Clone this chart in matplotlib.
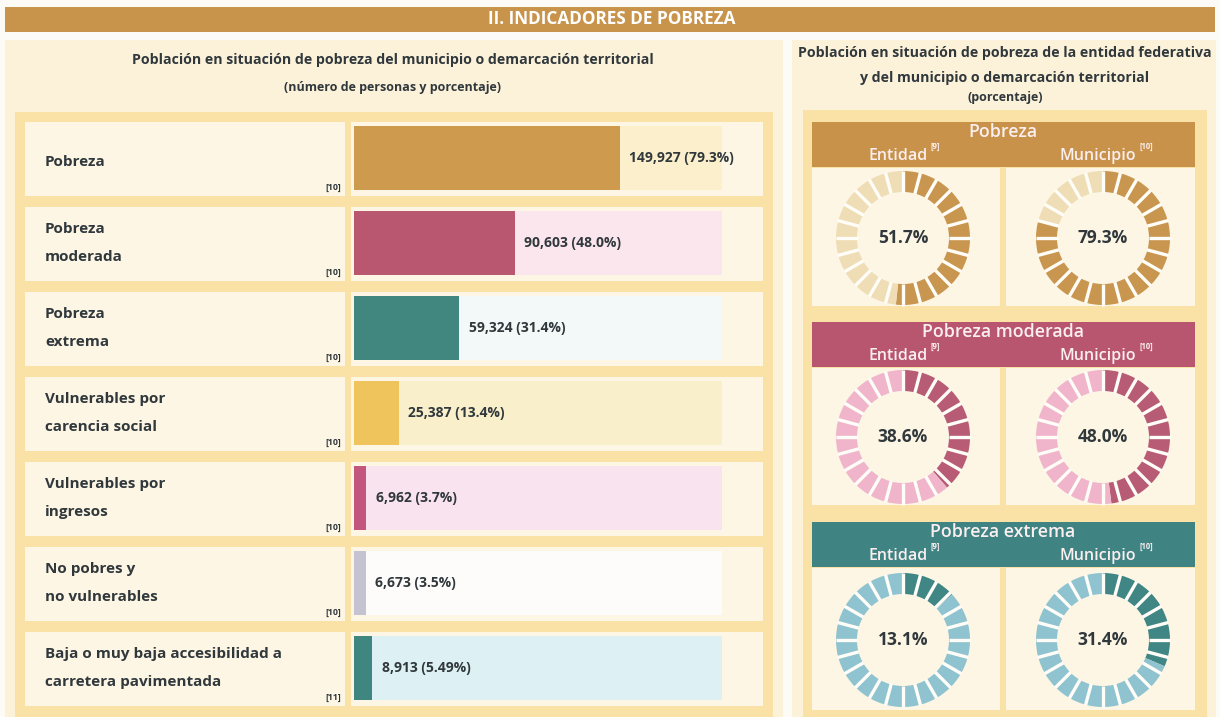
import numpy as np
import matplotlib
matplotlib.use("Agg")
import matplotlib.pyplot as plt
from matplotlib.patches import Rectangle, Wedge

plt.rcParams['font.family'] = ['Open Sans', 'DejaVu Sans']

W, H = 1220, 717

# ---- data ----
row_labels = ['Pobreza', 'Pobreza\nmoderada', 'Pobreza\nextrema',
              'Vulnerables por\ncarencia social', 'Vulnerables por\ningresos',
              'No pobres y\nno vulnerables',
              'Baja o muy baja accesibilidad a\ncarretera pavimentada']
row_notes = ['[10]', '[10]', '[10]', '[10]', '[10]', '[10]', '[11]']
personas = [149927, 90603, 59324, 25387, 6962, 6673, 8913]
pct = [79.3, 48.0, 31.4, 13.4, 3.7, 3.5, 5.49]
pct_txt = ['79.3%', '48.0%', '31.4%', '13.4%', '3.7%', '3.5%', '5.49%']
bar_colors = ['#CD9A4E', '#BA5770', '#42877F', '#EFC45C', '#C2567C', '#C5C2D1', '#3E867F']
bar_bg = ['#FCEFCC', '#FBE6EE', '#F3F8F8', '#FAEFCB', '#F8E3EF', '#FDFCFB', '#DDF0F3']

groups = ['Pobreza', 'Pobreza moderada', 'Pobreza extrema']
entidad = [51.7, 38.6, 13.1]
municipio = [79.3, 48.0, 31.4]
grp_dark = ['#C99650', '#B75C74', '#3F8685']
grp_light = ['#EFDDB6', '#F0B5CB', '#8EC3CF']
grp_head = ['#C8924A', '#B8566F', '#3F8482']

TXT = '#30383C'
CREAM = '#FCF2DA'
CELL = '#FDF6E4'
FRAME = '#FAE2A6'

fig = plt.figure(figsize=(W / 100, H / 100), dpi=100)
fig.patch.set_facecolor('#FDFBF5')


def px_axes(x0, y0, x1, y1):
    return fig.add_axes([x0 / W, 1 - y1 / H, (x1 - x0) / W, (y1 - y0) / H])


bg = fig.add_axes([0, 0, 1, 1])
bg.set_xlim(0, W)
bg.set_ylim(H, 0)
bg.axis('off')


def box(x0, y0, x1, y1, color, z=1):
    bg.add_patch(Rectangle((x0, y0), x1 - x0, y1 - y0, color=color, lw=0, zorder=z))


# header
box(5, 7, 1215, 32, '#C8944C')
bg.text(612, 19, 'II. INDICADORES DE POBREZA', color='white', fontsize=12.3,
        fontweight='bold', ha='center', va='center')

# left panel
box(5, 40, 783, 717, CREAM)
bg.text(393, 60, 'Población en situación de pobreza del municipio o demarcación territorial',
        fontsize=10.2, fontweight='bold', color=TXT, ha='center', va='center')
bg.text(393, 87, '(número de personas y porcentaje)', fontsize=9, fontweight='bold',
        color=TXT, ha='center', va='center')
box(15, 112, 773, 717, FRAME)

pitch = 85
y_first = 158
for i, lab in enumerate(row_labels):
    cy = y_first + i * pitch
    box(25, cy - 36, 345, cy + 38, CELL, 2)
    box(351, cy - 36, 763, cy + 38, CELL, 2)
    n_lines = lab.count('\n') + 1
    bg.text(45, cy + 4 if n_lines == 1 else cy, lab, fontsize=11, fontweight='bold',
            color=TXT, ha='left', va='center', linespacing=2.2, zorder=3)
    bg.text(341, cy + 34, row_notes[i], fontsize=6.3, fontweight='bold', color=TXT,
            ha='right', va='bottom', zorder=3)

# bars
ymin = y_first - pitch / 2
ymax = y_first + (len(pct) - 1) * pitch + pitch / 2
axb = px_axes(354, ymin, 722, ymax)
axb.patch.set_alpha(0)
xmax = 109.7
ypos = np.arange(len(pct))
axb.barh(ypos, [xmax] * len(pct), height=0.75, color=bar_bg, lw=0)
axb.barh(ypos, pct, height=0.75, color=bar_colors, lw=0)
for i, (n, p) in enumerate(zip(personas, pct)):
    axb.text(p + 2.8, i, f'{n:,} ({pct_txt[i]})', fontsize=10, fontweight='bold',
             color=TXT, va='center', ha='left')
axb.set_xlim(0, xmax)
axb.set_ylim(len(pct) - 0.5, -0.5)
axb.axis('off')

# right panel
box(792, 40, 1216, 717, CREAM)
bg.text(1005, 53, 'Población en situación de pobreza de la entidad federativa',
        fontsize=10.2, fontweight='bold', color=TXT, ha='center', va='center')
bg.text(1005, 78, 'y del municipio o demarcación territorial',
        fontsize=10.2, fontweight='bold', color=TXT, ha='center', va='center')
bg.text(1005, 98, '(porcentaje)', fontsize=9, fontweight='bold', color=TXT,
        ha='center', va='center')
box(803, 110, 1207, 717, FRAME)

head_tops = [122, 322, 522]
cell_bottoms = [306, 505, 710]
donut_cy = [238, 437, 640]
cols_x = [903, 1103]
col_names = ['Entidad', 'Municipio']
col_notes = ['[9]', '[10]']


def donut(ax, value, dark, light, n=24, r=67, w=21):
    filled = value / 100 * n
    step = 360 / n
    for k in range(n):
        f = min(max(filled - k, 0), 1)
        a0, a1 = k * step, (k + 1) * step
        if f > 0:
            ax.add_patch(Wedge((0, 0), r, 90 - (a0 + f * step), 90 - a0, width=w,
                               color=dark, lw=0))
        if f < 1:
            ax.add_patch(Wedge((0, 0), r, 90 - a1, 90 - (a0 + f * step), width=w,
                               color=light, lw=0))
    for k in range(n):
        t = np.deg2rad(90 - k * step)
        ax.plot([(r - w - 0.5) * np.cos(t), (r + 0.5) * np.cos(t)],
                [(r - w - 0.5) * np.sin(t), (r + 0.5) * np.sin(t)], color='#FFFDF7',
                lw=2.4, solid_capstyle='butt')
    ax.text(0, 0, f'{value:.1f}%', fontsize=12.5, fontweight='bold', color=TXT,
            ha='center', va='center')


for g, name in enumerate(groups):
    top = head_tops[g]
    box(812, top, 1195, top + 45, grp_head[g], 2)
    bg.text(1003, top + 10, name, fontsize=12.8, fontweight='semibold', color='#FCEFF0',
            ha='center', va='center', zorder=3)
    box(812, top + 46, 1000, cell_bottoms[g], CELL, 2)
    box(1006, top + 46, 1195, cell_bottoms[g], CELL, 2)
    for c, cx in enumerate(cols_x):
        t = bg.text(cx - 5, top + 34, col_names[c], fontsize=11.5, fontweight='semibold',
                    color='#FCEFF0', ha='center', va='center', zorder=3)
        bg.annotate(col_notes[c], xy=(1, 0.8), xycoords=t, xytext=(2, 0),
                    textcoords='offset points', fontsize=5.5, fontweight='bold',
                    color='#FCEFF0', va='bottom', ha='left', zorder=3)
        ax = px_axes(cx - 75, donut_cy[g] - 75, cx + 75, donut_cy[g] + 75)
        ax.set_xlim(-75, 75)
        ax.set_ylim(-75, 75)
        ax.axis('off')
        vals = entidad if c == 0 else municipio
        donut(ax, vals[g], grp_dark[g], grp_light[g])

fig.savefig('out.png', dpi=100)
